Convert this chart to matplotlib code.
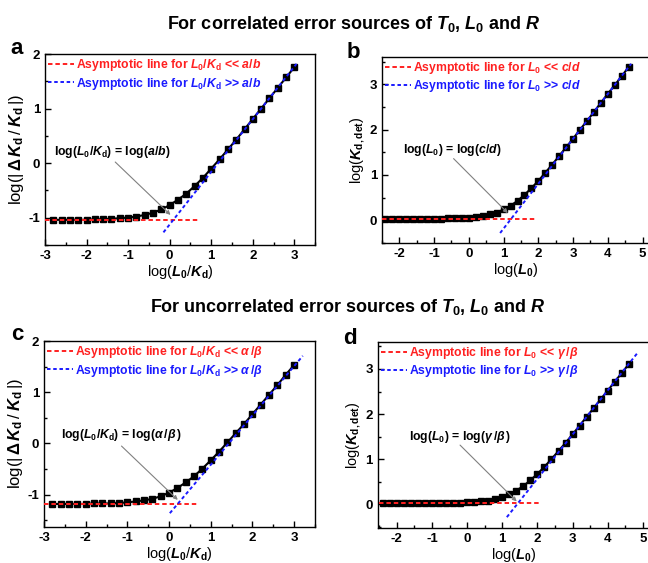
import matplotlib
matplotlib.use("Agg")
import matplotlib.pyplot as plt
from matplotlib.ticker import MultipleLocator

plt.rcParams['font.family'] = ['Liberation Sans', 'DejaVu Sans']
plt.rcParams['font.weight'] = 'bold'
plt.rcParams['axes.unicode_minus'] = False
plt.rcParams['mathtext.fontset'] = 'custom'
plt.rcParams['mathtext.rm'] = 'Liberation Sans:bold'
plt.rcParams['mathtext.it'] = 'Liberation Sans:bold:italic'
plt.rcParams['mathtext.bf'] = 'Liberation Sans:bold'
plt.rcParams['mathtext.sf'] = 'Liberation Sans:bold'

# ---------------- data ----------------
xa = [-2.8, -2.6, -2.4, -2.2, -2.0, -1.8, -1.6, -1.4, -1.2, -1.0, -0.8, -0.6, -0.4, -0.2, 0.0,
      0.2, 0.4, 0.6, 0.8, 1.0, 1.2, 1.4, 1.6, 1.8, 2.0, 2.2, 2.4, 2.6, 2.8, 3.0]
ya = [-1.04, -1.04, -1.04, -1.04, -1.04, -1.03, -1.03, -1.02, -1.01, -1.00, -0.98, -0.95, -0.91, -0.85, -0.77,
      -0.67, -0.56, -0.42, -0.27, -0.10, 0.07, 0.25, 0.43, 0.62, 0.81, 1.00, 1.19, 1.38, 1.57, 1.76]
a_red_x = [-3.0, 0.7]
a_red_y = [-1.04, -1.04]
a_blue_x = [-0.15, 3.05]
a_blue_y = [-1.27, 1.82]

xb = [-2.4, -2.2, -2.0, -1.8, -1.6, -1.4, -1.2, -1.0, -0.8, -0.6, -0.4, -0.2, 0.0, 0.2, 0.4, 0.6, 0.8, 1.0,
      1.2, 1.4, 1.6, 1.8, 2.0, 2.2, 2.4, 2.6, 2.8, 3.0, 3.2, 3.4, 3.6, 3.8, 4.0, 4.2, 4.4, 4.6]
yb = [0.03, 0.03, 0.03, 0.03, 0.03, 0.03, 0.03, 0.03, 0.03, 0.04, 0.04, 0.05, 0.06, 0.07, 0.09, 0.13, 0.17, 0.24,
      0.32, 0.43, 0.56, 0.71, 0.87, 1.05, 1.23, 1.42, 1.61, 1.80, 2.00, 2.19, 2.39, 2.59, 2.79, 2.98, 3.18, 3.38]
b_red_x = [-2.5, 1.9]
b_red_y = [0.03, 0.03]
b_blue_x = [0.9, 4.67]
b_blue_y = [-0.28, 3.45]

xc = xa
yc = [-1.18, -1.18, -1.18, -1.18, -1.18, -1.17, -1.17, -1.17, -1.16, -1.15, -1.13, -1.11, -1.08, -1.03, -0.96,
      -0.87, -0.76, -0.64, -0.49, -0.33, -0.16, 0.02, 0.20, 0.38, 0.57, 0.76, 0.95, 1.14, 1.34, 1.53]
c_red_x = [-3.0, 0.7]
c_red_y = [-1.18, -1.18]
c_blue_x = [0.02, 3.21]
c_blue_y = [-1.36, 1.71]

xd = xb
yd = [0.02, 0.02, 0.02, 0.02, 0.02, 0.02, 0.02, 0.02, 0.02, 0.02, 0.03, 0.03, 0.04, 0.05, 0.06, 0.08, 0.11, 0.15,
      0.22, 0.30, 0.40, 0.53, 0.67, 0.83, 1.00, 1.18, 1.36, 1.55, 1.74, 1.94, 2.13, 2.33, 2.52, 2.72, 2.91, 3.11]
d_red_x = [-2.5, 2.1]
d_red_y = [0.02, 0.02]
d_blue_x = [1.13, 4.87]
d_blue_y = [-0.29, 3.38]

fig = plt.figure(figsize=(6.48, 5.63), dpi=100)

ylab_delta = r'log(|$\,\Delta\,K_{\mathrm{d}}\,$/$\,K_{\mathrm{d}}\,$|)'
panels = [
    dict(rect=[0.0694, 0.565, 0.417, 0.339], x=xa, y=ya, rx=a_red_x, ry=a_red_y, bx=a_blue_x, by=a_blue_y,
         xlim=(-3, 3.5), ylim=(-1.5, 2),
         xlabel=r'log($L_0$/$K_{\mathrm{d}}$)', ylabel=ylab_delta, ylfs=12,
         lred=r'Asymptotic line for $L_0$/$K_{\mathrm{d}}$ << $a$/$b$',
         lblue=r'Asymptotic line for $L_0$/$K_{\mathrm{d}}$ >> $a$/$b$',
         ann=r'log($L_0$/$K_{\mathrm{d}}$) = log($a$/$b$)', txy=(-1.39, 0.21), sxy=(-1.31, 0.02), exy=(0.02, -0.95),
         letter='a', lxy=(17, 48)),
    dict(rect=[0.5895, 0.5684, 0.414, 0.3304], x=xb, y=yb, rx=b_red_x, ry=b_red_y, bx=b_blue_x, by=b_blue_y,
         xlim=(-2.5, 5.22), ylim=(-0.5, 3.6),
         xlabel=r'log($L_0$)', ylabel=r'log($K_{\mathrm{d,det}}$)', ylfs=10.5,
         lred=r'Asymptotic line for $L_0$ << $c$/$d$',
         lblue=r'Asymptotic line for $L_0$ >> $c$/$d$',
         ann=r'log($L_0$) = log($c$/$d$)', txy=(-0.49, 1.56), sxy=(-0.44, 1.36), exy=(1.12, 0.16),
         letter='b', lxy=(353, 53)),
    dict(rect=[0.0679, 0.0639, 0.418, 0.3304], x=xc, y=yc, rx=c_red_x, ry=c_red_y, bx=c_blue_x, by=c_blue_y,
         xlim=(-3, 3.5), ylim=(-1.63, 2),
         xlabel=r'log($L_0$/$K_{\mathrm{d}}$)', ylabel=ylab_delta, ylfs=12,
         lred=r'Asymptotic line for $L_0$/$K_{\mathrm{d}}$ << $\alpha\,/\beta$',
         lblue=r'Asymptotic line for $L_0$/$K_{\mathrm{d}}$ >> $\alpha\,/\beta$',
         ann=r'log($L_0$/$K_{\mathrm{d}}$) = log($\alpha\,/\beta\,$)', txy=(-1.14, 0.17), sxy=(-1.14, -0.05), exy=(0.21, -1.1),
         letter='c', lxy=(17, 335)),
    dict(rect=[0.583, 0.0622, 0.42, 0.3304], x=xd, y=yd, rx=d_red_x, ry=d_red_y, bx=d_blue_x, by=d_blue_y,
         xlim=(-2.54, 5.2), ylim=(-0.53, 3.6),
         xlabel=r'log($L_0$)', ylabel=r'log($K_{\mathrm{d,det}}$)', ylfs=10.5,
         lred=r'Asymptotic line for $L_0$ << $\gamma\,/\beta$',
         lblue=r'Asymptotic line for $L_0$ >> $\gamma\,/\beta$',
         ann=r'log($L_0$) = log($\gamma\,/\beta\,$)', txy=(-0.2, 1.49), sxy=(-0.2, 1.31), exy=(1.41, 0.06),
         letter='d', lxy=(350, 338)),
]

W, H = 648.0, 563.0
for p in panels:
    ax = fig.add_axes(p['rect'])
    ax.plot(p['x'], p['y'], color='black', lw=1.5, marker='s', ms=3.8, zorder=2)
    lr, = ax.plot(p['rx'], p['ry'], color='#ff2020', lw=1.4, ls=(0, (2.3, 1.5)), zorder=3, label=p['lred'])
    lb, = ax.plot(p['bx'], p['by'], color='#1a1aff', lw=1.4, ls=(0, (1.8, 1.4)), zorder=3, label=p['lblue'])
    ax.set_xlim(*p['xlim'])
    ax.set_ylim(*p['ylim'])
    ax.xaxis.set_major_locator(MultipleLocator(1))
    ax.xaxis.set_minor_locator(MultipleLocator(0.5))
    ax.yaxis.set_major_locator(MultipleLocator(1))
    ax.yaxis.set_minor_locator(MultipleLocator(0.5))
    ax.tick_params(which='both', direction='in', top=False, right=False, labelsize=9.5, width=1)
    ax.tick_params(which='major', length=4)
    ax.tick_params(which='minor', length=2)
    for lab in ax.get_xticklabels() + ax.get_yticklabels():
        lab.set_fontweight('bold')
    for s in ax.spines.values():
        s.set_linewidth(1.0)
    ax.set_xlabel(p['xlabel'], fontsize=10.5, labelpad=1)
    ax.set_ylabel(p['ylabel'], fontsize=p['ylfs'], labelpad=2)
    leg = ax.legend(handles=[lr, lb], loc='upper left', frameon=False, fontsize=8.8,
                    handlelength=2.1, handletextpad=0.2, labelspacing=0.2, borderaxespad=0.15,
                    borderpad=0.1)
    for t, c in zip(leg.get_texts(), ['#ff2020', '#1a1aff']):
        t.set_color(c)
    ax.text(p['txy'][0], p['txy'][1], p['ann'], ha='center', va='center', fontsize=8.8)
    ax.annotate('', xy=p['exy'], xytext=p['sxy'],
                arrowprops=dict(arrowstyle='-|>', color='#808080', lw=0.8, mutation_scale=6,
                                shrinkA=0, shrinkB=0))
    fig.text(p['lxy'][0] / W, 1 - p['lxy'][1] / H, p['letter'], fontsize=16, fontweight='bold',
             ha='center', va='center')

fig.text(353 / W, 1 - 24 / H, r'For correlated error sources of $T_0$, $L_0$ and $R$',
         fontsize=13, fontweight='bold', ha='center', va='center')
fig.text(347 / W, 1 - 307 / H, r'For uncorrelated error sources of $T_0$, $L_0$ and $R$',
         fontsize=13, fontweight='bold', ha='center', va='center')

fig.savefig('out.png', dpi=100)
